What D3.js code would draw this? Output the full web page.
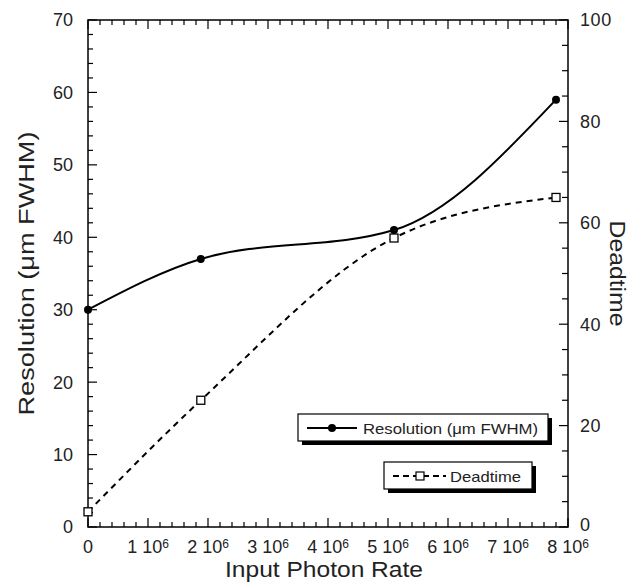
<!DOCTYPE html>
<html>
<head>
<meta charset="utf-8">
<script src="https://cdn.jsdelivr.net/npm/d3@7"></script>
<style>
  body { margin: 0; background: #fff; }
  text { font-family: "Liberation Sans", Arial, sans-serif; fill: #222; }
</style>
</head>
<body>
<svg id="chart" width="639" height="586"></svg>
<script>
// data
var rates = [0, 1.88e6, 5.1e6, 7.8e6];
var resolution = [30, 37, 41, 59];
var deadtime = [3, 25, 57, 65];
var xTicks = [0, 1, 2, 3, 4, 5, 6, 7, 8];
var leftTicks = [0, 10, 20, 30, 40, 50, 60, 70];
var rightTicks = [0, 20, 40, 60, 80, 100];

var svg = d3.select("#chart");
var margin = { top: 20, right: 71, bottom: 59, left: 88 };
var width = 639 - margin.left - margin.right;
var height = 586 - margin.top - margin.bottom;

var g = svg.append("g")
  .attr("transform", "translate(" + margin.left + "," + margin.top + ")");

var x = d3.scaleLinear().domain([0, 8e6]).range([0, width]);
var yL = d3.scaleLinear().domain([0, 70]).range([height, 0]);
var yR = d3.scaleLinear().domain([0, 100]).range([height, 0]);

// frame
g.append("rect")
  .attr("width", width).attr("height", height)
  .attr("fill", "none").attr("stroke", "#000").attr("stroke-width", 1.5);

// inward ticks, minor + major
function minor(n, step) { return d3.range(0, n + 1e-9, step); }

var tk = g.append("g").attr("stroke", "#000").attr("stroke-width", 1.2);
minor(8e6, 2e5).forEach(function(v) {
  var major = Math.abs(v / 1e6 - Math.round(v / 1e6)) < 1e-6;
  var len = major ? 9 : 5;
  tk.append("line").attr("x1", x(v)).attr("x2", x(v)).attr("y1", height).attr("y2", height - len);
  tk.append("line").attr("x1", x(v)).attr("x2", x(v)).attr("y1", 0).attr("y2", len);
});
minor(70, 2).forEach(function(v) {
  var len = v % 10 === 0 ? 9 : 5;
  tk.append("line").attr("x1", 0).attr("x2", len).attr("y1", yL(v)).attr("y2", yL(v));
});
minor(100, 5).forEach(function(v) {
  var len = v % 20 === 0 ? 9 : 6;
  tk.append("line").attr("x1", width).attr("x2", width - len).attr("y1", yR(v)).attr("y2", yR(v));
});

// tick labels
g.selectAll(".yl").data(leftTicks).enter().append("text")
  .attr("x", -15).attr("y", function(d) { return yL(d); })
  .attr("dy", "0.36em").attr("text-anchor", "end")
  .style("font-size", "18px").text(function(d) { return d; });

g.selectAll(".yr").data(rightTicks).enter().append("text")
  .attr("x", width + 12).attr("y", function(d) { return yR(d) - (d === 0 ? 2 : 0); })
  .attr("dy", "0.36em").attr("text-anchor", "start")
  .style("font-size", "18px").style("letter-spacing", "0.6px")
  .text(function(d) { return d; });

var xl = g.selectAll(".xl").data(xTicks).enter().append("text")
  .attr("x", function(d) { return x(d * 1e6); })
  .attr("y", height + 26)
  .attr("text-anchor", "middle")
  .style("font-size", "18px");
xl.each(function(d) {
  var t = d3.select(this);
  if (d === 0) { t.text("0"); return; }
  t.append("tspan").text(d + "\u00a010");
  t.append("tspan").attr("dy", "-0.45em").style("font-size", "12px").text("6");
});

// axis titles
svg.append("text")
  .attr("x", 225).attr("y", 577)
  .attr("textLength", 198).attr("lengthAdjust", "spacingAndGlyphs")
  .style("font-size", "22px")
  .text("Input Photon Rate");

svg.append("text")
  .attr("transform", "translate(34," + (margin.top + height / 2) + ") rotate(-90)")
  .attr("x", -142).attr("textLength", 284).attr("lengthAdjust", "spacingAndGlyphs")
  .style("font-size", "22px")
  .text("Resolution (\u03bcm FWHM)");

svg.append("text")
  .attr("transform", "translate(610," + (margin.top + height / 2) + ") rotate(90)")
  .attr("x", -53).attr("textLength", 106).attr("lengthAdjust", "spacingAndGlyphs")
  .style("font-size", "22px")
  .text("Deadtime");

// curves
var resData = rates.map(function(r, i) { return [r, resolution[i]]; });
var deadData = rates.map(function(r, i) { return [r, deadtime[i]]; });

var lineL = d3.line().curve(d3.curveMonotoneX)
  .x(function(d) { return x(d[0]); }).y(function(d) { return yL(d[1]); });
var lineR = d3.line().curve(d3.curveMonotoneX)
  .x(function(d) { return x(d[0]); }).y(function(d) { return yR(d[1]); });

g.append("path").datum(resData).attr("d", lineL)
  .attr("fill", "none").attr("stroke", "#000").attr("stroke-width", 2);
g.append("path").datum(deadData).attr("d", lineR)
  .attr("fill", "none").attr("stroke", "#000").attr("stroke-width", 2)
  .attr("stroke-dasharray", "6,5");

g.selectAll(".dot").data(resData).enter().append("circle")
  .attr("cx", function(d) { return x(d[0]); })
  .attr("cy", function(d) { return yL(d[1]); })
  .attr("r", 4).attr("fill", "#000");

g.selectAll(".sq").data(deadData).enter().append("rect")
  .attr("x", function(d) { return x(d[0]) - 4; })
  .attr("y", function(d) { return yR(d[1]) - 4; })
  .attr("width", 8).attr("height", 8)
  .attr("fill", "#fff").attr("stroke", "#000").attr("stroke-width", 1.3);

// legends with drop shadow
function legendBox(x0, y0, w, h) {
  svg.append("rect").attr("x", x0 + 4).attr("y", y0 + 4).attr("width", w).attr("height", h).attr("fill", "#000");
  svg.append("rect").attr("x", x0).attr("y", y0).attr("width", w).attr("height", h)
    .attr("fill", "#fff").attr("stroke", "#000").attr("stroke-width", 1.2);
}
legendBox(298, 414, 250, 27);
svg.append("line").attr("x1", 307).attr("x2", 357).attr("y1", 428).attr("y2", 428)
  .attr("stroke", "#000").attr("stroke-width", 2);
svg.append("circle").attr("cx", 332).attr("cy", 428).attr("r", 4).attr("fill", "#000");
svg.append("text").attr("x", 363).attr("y", 433.5)
  .attr("textLength", 175).attr("lengthAdjust", "spacingAndGlyphs")
  .style("font-size", "15px")
  .text("Resolution (\u03bcm FWHM)");

legendBox(384, 462, 148, 27);
svg.append("line").attr("x1", 393).attr("x2", 446).attr("y1", 476).attr("y2", 476)
  .attr("stroke", "#000").attr("stroke-width", 2).attr("stroke-dasharray", "6,4");
svg.append("rect").attr("x", 416).attr("y", 472).attr("width", 8).attr("height", 8)
  .attr("fill", "#fff").attr("stroke", "#000").attr("stroke-width", 1.2);
svg.append("text").attr("x", 450).attr("y", 481.5)
  .attr("textLength", 71).attr("lengthAdjust", "spacingAndGlyphs")
  .style("font-size", "15px")
  .text("Deadtime");
</script>
</body>
</html>
